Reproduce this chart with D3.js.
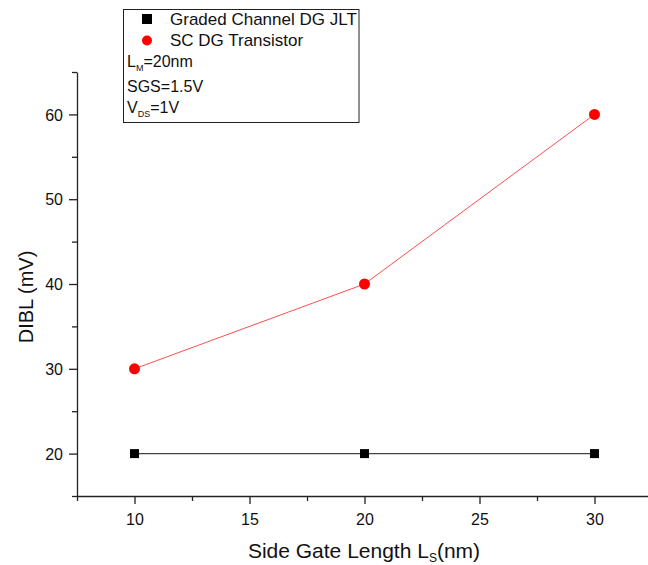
<!DOCTYPE html>
<html>
<head>
<meta charset="utf-8">
<script src="https://cdn.jsdelivr.net/npm/d3@7"></script>
<style>
  html, body { margin: 0; padding: 0; background: #fff; }
  svg { display: block; font-family: "Liberation Sans", Arial, sans-serif; }
</style>
</head>
<body>
<svg id="chart" width="648" height="565"></svg>
<script>
// Side gate length (nm)
const sideGateLength = [10, 20, 30];
// DIBL (mV) for each device
const gradedChannelDIBL = [20, 20, 20];
const scDGDIBL = [30, 40, 60];
const seriesNames = ["Graded Channel DG JLT", "SC DG Transistor"];
const xTicks = [10, 15, 20, 25, 30];
const yTicks = [20, 30, 40, 50, 60];

const svg = d3.select("#chart");
const plotLeft = 77, plotTop = 72, plotBottom = 496, plotRight = 652;

const x = d3.scaleLinear().domain([7.5, 32.5]).range([plotLeft, plotRight]);
const y = d3.scaleLinear().domain([15, 65]).range([plotBottom, plotTop]);

// Axes: major ticks labelled, minor ticks halfway between
const xMinor = d3.range(7.5, 32.6, 2.5).filter(v => !xTicks.includes(v));
const yMinor = d3.range(15, 65.1, 5).filter(v => !yTicks.includes(v));

const xAxisG = svg.append("g").attr("transform", `translate(0,${plotBottom})`);
xAxisG.call(d3.axisBottom(x).tickValues(xTicks).tickFormat(d3.format("d")).tickSize(8).tickSizeOuter(0));
xAxisG.append("g").call(d3.axisBottom(x).tickValues(xMinor).tickFormat("").tickSize(5).tickSizeOuter(0))
  .select(".domain").remove();

const yAxisG = svg.append("g").attr("transform", `translate(${plotLeft},0)`);
yAxisG.call(d3.axisLeft(y).tickValues(yTicks).tickFormat(d3.format("d")).tickSize(8).tickSizeOuter(0));
yAxisG.append("g").call(d3.axisLeft(y).tickValues(yMinor).tickFormat("").tickSize(5).tickSizeOuter(0))
  .select(".domain").remove();

svg.selectAll(".domain").attr("stroke", "#222").attr("stroke-width", 1.3);
svg.selectAll(".tick line").attr("stroke", "#222").attr("stroke-width", 1.3);
svg.selectAll(".tick text").attr("font-size", 16).attr("fill", "#111")
  .attr("font-family", "'Liberation Sans', Arial, sans-serif");
xAxisG.selectAll(".tick text").attr("y", 0).attr("dy", 29);
yAxisG.selectAll(".tick text").attr("x", -14).attr("dy", "0.35em");

// Axis titles
svg.append("text")
  .attr("transform", `translate(33,297) rotate(-90)`)
  .attr("text-anchor", "middle").attr("font-size", 20).attr("fill", "#111")
  .text("DIBL (mV)");

const xt = svg.append("text")
  .attr("x", 364).attr("y", 558)
  .attr("text-anchor", "middle").attr("font-size", 21).attr("fill", "#111");
xt.append("tspan").text("Side Gate Length L");
xt.append("tspan").attr("font-size", 12).attr("dy", 4).text("S");
xt.append("tspan").attr("dy", -4).text("(nm)");

// Series
const line = d3.line().x(d => x(d[0])).y(d => y(d[1]));
const gcData = sideGateLength.map((v, i) => [v, gradedChannelDIBL[i]]);
const scData = sideGateLength.map((v, i) => [v, scDGDIBL[i]]);

svg.append("path").datum(gcData).attr("d", line)
  .attr("fill", "none").attr("stroke", "#444").attr("stroke-width", 1.2);
svg.append("path").datum(scData).attr("d", line)
  .attr("fill", "none").attr("stroke", "#ff3a3a").attr("stroke-width", 0.9);

svg.selectAll(".sq").data(gcData).enter().append("rect")
  .attr("x", d => x(d[0]) - 4.5).attr("y", d => y(d[1]) - 4.5)
  .attr("width", 9).attr("height", 9).attr("fill", "#000");
svg.selectAll(".dot").data(scData).enter().append("circle")
  .attr("cx", d => x(d[0])).attr("cy", d => y(d[1])).attr("r", 5.5)
  .attr("fill", "#ff0000");

// Legend box
const lg = svg.append("g");
lg.append("rect").attr("x", 123.5).attr("y", 9.5).attr("width", 235.5).attr("height", 113)
  .attr("fill", "#fff").attr("stroke", "#222").attr("stroke-width", 1);
lg.append("rect").attr("x", 142).attr("y", 14).attr("width", 10).attr("height", 10).attr("fill", "#000");
lg.append("circle").attr("cx", 147).attr("cy", 40.5).attr("r", 5).attr("fill", "#ff0000");
lg.append("text").attr("x", 170).attr("y", 25).attr("font-size", 17).attr("fill", "#111").text(seriesNames[0]);
lg.append("text").attr("x", 170).attr("y", 46).attr("font-size", 17).attr("fill", "#111").text(seriesNames[1]);

const t1 = lg.append("text").attr("x", 127).attr("y", 67).attr("font-size", 16).attr("fill", "#111");
t1.append("tspan").text("L");
t1.append("tspan").attr("font-size", 9).attr("dy", 4).text("M");
t1.append("tspan").attr("dy", -4).text("=20nm");
lg.append("text").attr("x", 127).attr("y", 92).attr("font-size", 16).attr("fill", "#111").text("SGS=1.5V");
const t3 = lg.append("text").attr("x", 127).attr("y", 113).attr("font-size", 16).attr("fill", "#111");
t3.append("tspan").text("V");
t3.append("tspan").attr("font-size", 9).attr("dy", 4).text("DS");
t3.append("tspan").attr("dy", -4).text("=1V");
</script>
</body>
</html>
